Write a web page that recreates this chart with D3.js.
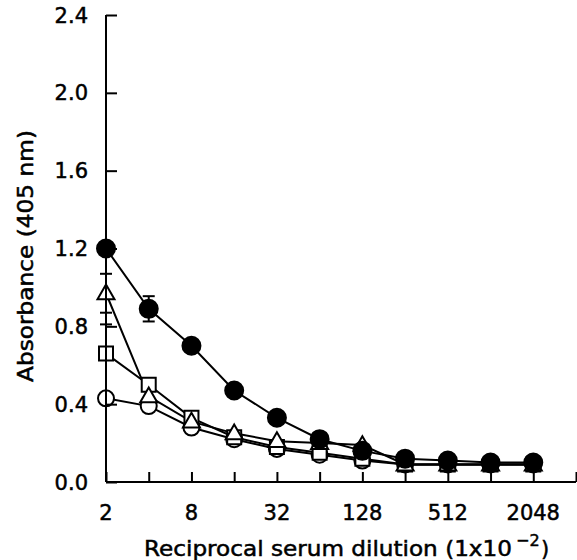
<!DOCTYPE html>
<html>
<head>
<meta charset="utf-8">
<script src="https://cdn.jsdelivr.net/npm/d3@7"></script>
<style>
  html, body { margin: 0; padding: 0; background: #fff; }
  svg { display: block; }
  text { font-family: "DejaVu Sans", sans-serif; fill: #000; stroke: #000; stroke-width: 0.5px; }
</style>
</head>
<body>
<div id="chart"></div>
<script>
// ---- Data ----
const dilutions = [2, 4, 8, 16, 32, 64, 128, 256, 512, 1024, 2048];
const filledCircle = [1.20, 0.89, 0.70, 0.47, 0.33, 0.22, 0.16, 0.12, 0.11, 0.10, 0.10];
const openTriangle = [0.97, 0.44, 0.31, 0.25, 0.21, 0.20, 0.19, 0.09, 0.09, 0.09, 0.09];
const openSquare   = [0.66, 0.50, 0.33, 0.23, 0.18, 0.15, 0.12, 0.09, 0.09, 0.09, 0.09];
const openCircle   = [0.43, 0.39, 0.28, 0.22, 0.17, 0.14, 0.11, 0.09, 0.09, 0.09, 0.09];
// error bars: [series, dilution, up, down]
const errorBars = [
  ["filledCircle", 4, 0.065, 0.065],
  ["openTriangle", 2, 0.10, 0.10],
  ["openSquare", 2, 0.15, 0.0]
];
const xTickLabels = [2, 8, 32, 128, 512, 2048];
const xTickAll = [2, 4, 8, 16, 32, 64, 128, 256, 512, 1024, 2048, 4096];
const yTicks = [0.0, 0.4, 0.8, 1.2, 1.6, 2.0, 2.4];
const yLabel = "Absorbance (405 nm)";
const xLabel = "Reciprocal serum dilution (1x10";

const W = 577, H = 560;
const svg = d3.select("#chart").append("svg").attr("width", W).attr("height", H);

const x = d3.scaleLog().base(2).domain([2, 4096]).range([106, 576]);
const y = d3.scaleLinear().domain([0, 2.4]).range([482, 15]);

const series = {
  openCircle: openCircle,
  openSquare: openSquare,
  openTriangle: openTriangle,
  filledCircle: filledCircle
};
const order = ["openCircle", "openSquare", "openTriangle", "filledCircle"];

const line = d3.line().x(d => x(d[0])).y(d => y(d[1]));
const gLines = svg.append("g");
order.forEach(k => {
  const pts = dilutions.map((d, i) => [d, series[k][i]]);
  gLines.append("path").attr("d", line(pts))
    .attr("fill", "none").attr("stroke", "#000").attr("stroke-width", 2);
});

// error bars
const gErr = svg.append("g").attr("stroke", "#000").attr("stroke-width", 2);
errorBars.forEach(([k, dil, up, dn]) => {
  const i = dilutions.indexOf(dil);
  const v = series[k][i];
  const cx = x(dil);
  gErr.append("line").attr("x1", cx).attr("x2", cx).attr("y1", y(v + up)).attr("y2", y(v - dn));
  gErr.append("line").attr("x1", cx - 6).attr("x2", cx + 6).attr("y1", y(v + up)).attr("y2", y(v + up));
  if (dn > 0) gErr.append("line").attr("x1", cx - 6).attr("x2", cx + 6).attr("y1", y(v - dn)).attr("y2", y(v - dn));
});

// markers
const gM = svg.append("g");
const symbolDefs = {
  openCircle: { type: d3.symbolCircle, size: Math.PI * 8 * 8, fill: "#fff" },
  openSquare: { type: d3.symbolSquare, size: 14 * 14, fill: "#fff" },
  openTriangle: { type: d3.symbolTriangle, size: 125, fill: "#fff" },
  filledCircle: { type: d3.symbolCircle, size: Math.PI * 9 * 9, fill: "#000" }
};
order.forEach(k => {
  const s = symbolDefs[k];
  const sym = d3.symbol().type(s.type).size(s.size);
  gM.selectAll(null).data(dilutions.map((d, i) => [d, series[k][i]])).enter()
    .append("path")
    .attr("d", sym)
    .attr("transform", d => `translate(${x(d[0])},${y(d[1]) + (k === "openTriangle" ? 1 : 0)})`)
    .attr("fill", s.fill).attr("stroke", "#000").attr("stroke-width", 2);
});

// axes
const xAxis = d3.axisBottom(x).tickValues(xTickAll).tickSize(-10).tickFormat("");
const gx = svg.append("g").attr("transform", `translate(0,${y(0)})`).call(xAxis);
gx.select(".domain").attr("stroke-width", 2).attr("d", `M${x(2)},0H${x(4096)}`);
gx.selectAll(".tick line").attr("stroke-width", 2);

const yAxis = d3.axisLeft(y).tickValues(yTicks).tickSize(-11).tickFormat("");
const gy = svg.append("g").attr("transform", `translate(${x(2)},0)`).call(yAxis);
gy.select(".domain").attr("stroke-width", 2).attr("d", `M0,${y(2.4)}V${y(0)}`);
gy.selectAll(".tick line").attr("stroke-width", 2);

// tick labels
svg.append("g").selectAll("text").data(yTicks).enter().append("text")
  .attr("x", 88).attr("y", d => y(d) + 7.5)
  .attr("text-anchor", "end").attr("font-size", 21)
  .text(d => d.toFixed(1));

svg.append("g").selectAll("text").data(xTickLabels).enter().append("text")
  .attr("x", d => x(d)).attr("y", 520)
  .attr("text-anchor", "middle").attr("font-size", 21)
  .text(d => d);

// axis titles
svg.append("text")
  .attr("transform", "translate(33,256) rotate(-90)")
  .attr("text-anchor", "middle").attr("font-size", 21)
  .attr("textLength", 252).attr("lengthAdjust", "spacingAndGlyphs")
  .text(yLabel);

svg.append("text")
  .attr("x", 144).attr("y", 556).attr("font-size", 21)
  .attr("textLength", 368).attr("lengthAdjust", "spacingAndGlyphs")
  .text(xLabel);
svg.append("text")
  .attr("x", 516).attr("y", 546).attr("font-size", 16)
  .text("\u22122");
svg.append("text")
  .attr("x", 541).attr("y", 556).attr("font-size", 21)
  .text(")");
</script>
</body>
</html>
